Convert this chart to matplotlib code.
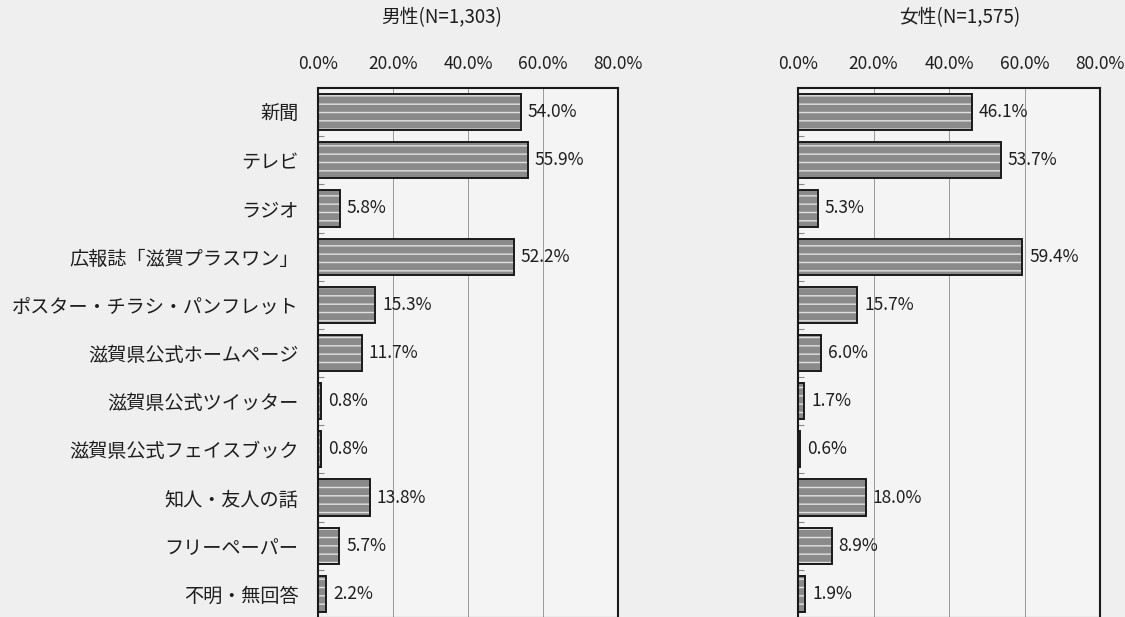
import matplotlib.pyplot as plt
import numpy as np

plt.rcParams['font.family'] = ['Noto Sans CJK JP', 'DejaVu Sans']

categories = ['新聞', 'テレビ', 'ラジオ', '広報誌「滋賀プラスワン」',
              'ポスター・チラシ・パンフレット', '滋賀県公式ホームページ',
              '滋賀県公式ツイッター', '滋賀県公式フェイスブック',
              '知人・友人の話', 'フリーペーパー', '不明・無回答']
male = [54.0, 55.9, 5.8, 52.2, 15.3, 11.7, 0.8, 0.8, 13.8, 5.7, 2.2]
female = [46.1, 53.7, 5.3, 59.4, 15.7, 6.0, 1.7, 0.6, 18.0, 8.9, 1.9]
male_title = '男性(N=1,303)'
female_title = '女性(N=1,575)'
xticks = [0, 20, 40, 60, 80]

bg = '#efefef'
txt = '#1e1e1e'
fig = plt.figure(figsize=(11.25, 6.17), dpi=100, facecolor=bg)

W, H = 1125, 617
ax_m = fig.add_axes([318 / W, -1 / H, 300 / W, 530 / H])
ax_f = fig.add_axes([798 / W, -1 / H, 302 / W, 530 / H])

y = np.arange(len(categories))


def draw(ax, values, show_labels):
    ax.set_facecolor('#f4f4f4')
    ax.set_xlim(0, 80)
    ax.set_ylim(len(categories) - 0.5, -0.5)
    for g in xticks[1:-1]:
        ax.axvline(g, color='#9a9a9a', lw=0.7, zorder=1)
    ax.barh(y, values, height=0.75, color='#8a8a8a', edgecolor='#e2e2e2',
            hatch='--', linewidth=0, zorder=2)
    ax.barh(y, values, height=0.75, fill=False, edgecolor='#1a1a1a',
            linewidth=1.4, zorder=3)
    for yi, v in zip(y, values):
        ax.annotate(f'{v:.1f}%', (v, yi), xytext=(5, 0), textcoords='offset points',
                    va='center', ha='left', fontsize=12.5, color=txt)
    ax.xaxis.tick_top()
    ax.set_xticks(xticks)
    ax.set_xticklabels([f'{t:.1f}%' for t in xticks], fontsize=12.5, color=txt)
    ax.tick_params(axis='x', length=0, pad=11)
    ax.set_yticks(y)
    if show_labels:
        ax.set_yticklabels(categories, fontsize=13.8, color=txt)
    else:
        ax.set_yticklabels([])
    ax.tick_params(axis='y', length=0, pad=14)
    ax.set_yticks(np.arange(len(categories) + 1) - 0.5, minor=True)
    ax.tick_params(axis='y', which='minor', direction='in', length=4,
                   color='#888888', width=0.8)
    for s in ax.spines.values():
        s.set_linewidth(1.5)
        s.set_color('#1a1a1a')


draw(ax_m, male, True)
draw(ax_f, female, False)

fig.text(442 / W, 1 - 18 / H, male_title, ha='center', va='center',
         fontsize=13.5, color=txt)
fig.text(960 / W, 1 - 18 / H, female_title, ha='center', va='center',
         fontsize=13.5, color=txt)

fig.savefig('out.png', dpi=100, facecolor=bg)
